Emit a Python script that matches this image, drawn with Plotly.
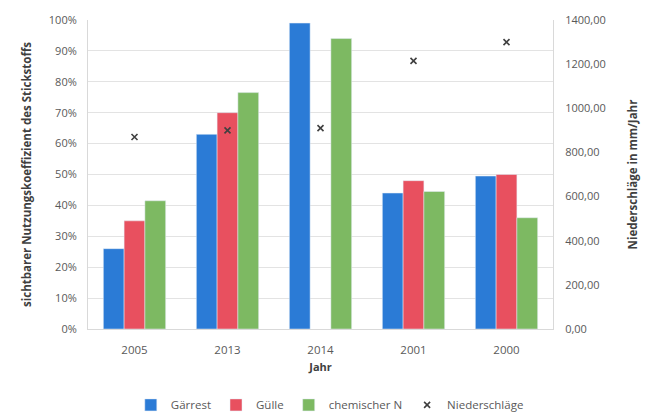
import plotly.graph_objects as go

# Categories (years) and series
jahre = ["2005", "2013", "2014", "2001", "2000"]
gaerrest = [0.26, 0.63, 0.99, 0.44, 0.495]
guelle = [0.35, 0.70, None, 0.48, 0.50]
chemischer_n = [0.415, 0.765, 0.94, 0.445, 0.36]
niederschlaege = [870, 900, 910, 1215, 1300]

left_ticks = [0, 0.1, 0.2, 0.3, 0.4, 0.5, 0.6, 0.7, 0.8, 0.9, 1.0]
right_ticks = [0, 200, 400, 600, 800, 1000, 1200, 1400]
right_ticktext = ["0,00", "200,00", "400,00", "600,00", "800,00", "1000,00", "1200,00", "1400,00"]

font_family = "Open Sans, Liberation Sans, sans-serif"
tick_color = "#595959"

fig = go.Figure()
fig.add_trace(go.Bar(x=jahre, y=gaerrest, name="Gärrest", marker_color="#2b7bd6"))
fig.add_trace(go.Bar(x=jahre, y=guelle, name="Gülle", marker_color="#e8505f"))
fig.add_trace(go.Bar(x=jahre, y=chemischer_n, name="chemischer N", marker_color="#7db962"))
fig.add_trace(go.Scatter(
    x=jahre, y=niederschlaege, name="Niederschläge", mode="markers", yaxis="y2",
    marker=dict(symbol="x-thin", size=6, line=dict(width=1.6, color="#404040")),
))

fig.update_layout(
    width=650, height=414,
    margin=dict(l=88, r=97, t=18, b=85),
    paper_bgcolor="white", plot_bgcolor="white",
    barmode="group", bargap=0.33, bargroupgap=0,
    font=dict(family=font_family, size=11, color=tick_color),
    showlegend=True,
    legend=dict(orientation="h", x=0.52, xanchor="center",
                yref="container", y=0.022, yanchor="middle",
                font=dict(size=11.5, color=tick_color), itemwidth=30,
                traceorder="normal"),
    xaxis=dict(
        showgrid=False, showline=True, linecolor="#d9d9d9", linewidth=1,
        ticks="", ticklabelstandoff=10, tickfont=dict(size=11.5, color=tick_color),
        title=dict(text="<b>Jahr</b>", font=dict(size=11, color="#404040"), standoff=7),
    ),
    yaxis=dict(
        range=[0, 1.0], tickvals=left_ticks, tickformat=".0%",
        showgrid=True, gridcolor="#e3e3e3", gridwidth=1,
        showline=True, linecolor="#d9d9d9", zeroline=False,
        ticklabelstandoff=8,
        tickfont=dict(size=11, color=tick_color),
        title=dict(text="<b>sichtbarer Nutzungskoeffizient des Stickstoffs</b>",
                   font=dict(size=11.5, color="#404040"), standoff=14),
    ),
    yaxis2=dict(
        range=[0, 1400], tickvals=right_ticks, ticktext=right_ticktext,
        overlaying="y", side="right", showgrid=False,
        showline=True, linecolor="#d9d9d9", zeroline=False,
        ticklabelstandoff=9,
        tickfont=dict(size=11, color=tick_color),
        title=dict(text="<b>Niederschläge in mm/Jahr</b>",
                   font=dict(size=11.5, color="#404040"), standoff=24),
    ),
)

fig.write_html("out.html")
